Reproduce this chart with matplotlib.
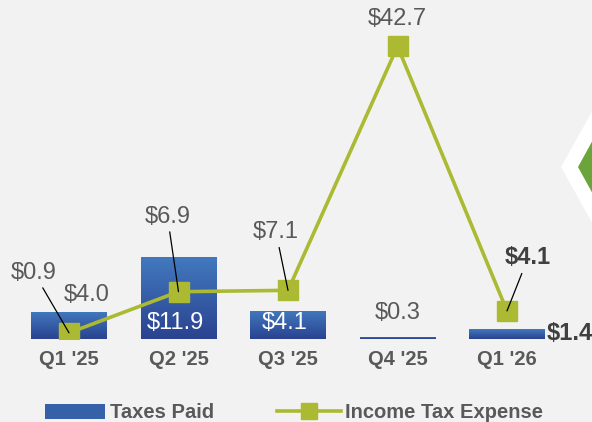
import numpy as np
import matplotlib.pyplot as plt
from matplotlib.colors import LinearSegmentedColormap
from matplotlib.patches import Polygon, Patch
from matplotlib.lines import Line2D

plt.rcParams['font.family'] = ['Liberation Sans', 'DejaVu Sans']

quarters = ["Q1 '25", "Q2 '25", "Q3 '25", "Q4 '25", "Q1 '26"]
taxes_paid = [4.0, 11.9, 4.1, 0.3, 1.4]
income_tax_expense = [0.9, 6.9, 7.1, 42.7, 4.1]

bg = '#f2f2f2'
gray = '#595959'
dark = '#404040'
green = '#abba32'
blue_cmap = LinearSegmentedColormap.from_list('bars', ['#2a4290', '#4279be'])

W, H = 592, 422
fig = plt.figure(figsize=(W / 100, H / 100), dpi=100, facecolor=bg)
ax = fig.add_axes([14.25 / W, 83 / H, 547.5 / W, 329 / H])
ax.set_facecolor(bg)

x = np.arange(len(quarters))
bars = ax.bar(x, taxes_paid, width=0.694, color='#3660a8', zorder=2)

# vertical gradient in each bar
grad = np.linspace(0, 1, 100).reshape(-1, 1)
for b in bars:
    bx, by = b.get_x(), b.get_y()
    bw, bh = b.get_width(), b.get_height()
    im = ax.imshow(grad, extent=[bx, bx + bw, by, by + bh], origin='lower',
                   aspect='auto', cmap=blue_cmap, zorder=2.1)
    im.set_clip_path(b)

ax.plot(x, income_tax_expense, color=green, lw=2.6, marker='s', ms=14,
        markeredgecolor=green, zorder=3)

ax.set_xlim(-0.5, 4.5)
ax.set_ylim(0, 48.0)
ax.set_xticks(x)
ax.set_xticklabels(quarters, fontsize=14.5, fontweight='bold', color=gray)
ax.tick_params(axis='x', length=0, pad=8)
ax.set_yticks([])
for s in ax.spines.values():
    s.set_visible(False)

# labels for the line (offsets in pixels from the marker)
line_off = [(-35, 60), (-11, 75), (-12, 58), (0, 27), (21, 53)]
line_leader = [True, True, True, False, True]
for i, v in enumerate(income_tax_expense):
    last = i == len(income_tax_expense) - 1
    ax.annotate(f'${v:.1f}', xy=(i, v), xytext=line_off[i], textcoords='offset pixels',
                ha='center', va='center', fontsize=17,
                fontweight='bold' if last else 'normal',
                color=dark if last else gray, zorder=4,
                arrowprops=dict(arrowstyle='-', color='black', lw=0.9,
                                shrinkA=1, shrinkB=0) if line_leader[i] else None)

# labels for the bars
ax.annotate(f'${taxes_paid[0]:.1f}', xy=(0, taxes_paid[0]), xytext=(18, 17),
            textcoords='offset pixels', ha='center', va='center', fontsize=17, color=gray)
for i in (1, 2):
    ax.annotate(f'${taxes_paid[i]:.1f}', xy=(i, 0), xytext=(-3, 16),
                textcoords='offset pixels', ha='center', va='center', fontsize=17,
                color='white', zorder=2.5)
ax.annotate(f'${taxes_paid[3]:.1f}', xy=(3, taxes_paid[3]), xytext=(0, 24),
            textcoords='offset pixels', ha='center', va='center', fontsize=17, color=gray)
ax.annotate(f'${taxes_paid[4]:.1f}', xy=(4 + 0.347, taxes_paid[4] / 2), xytext=(2, 1),
            textcoords='offset pixels', ha='left', va='center', fontsize=17,
            fontweight='bold', color=dark, annotation_clip=False)

# legend
leg1 = fig.legend(handles=[Patch(facecolor='#3660a8')], labels=['Taxes Paid'],
                  loc='center left', bbox_to_anchor=(45 / W, 9 / H), frameon=False,
                  borderpad=0, borderaxespad=0, handlelength=3.0, handleheight=0.8,
                  handletextpad=0.25, prop=dict(size=14.5, weight='bold'))
for t in leg1.get_texts():
    t.set_color(gray)
leg2 = fig.legend(handles=[Line2D([], [], color=green, lw=2.6, marker='s', ms=12)],
                  labels=['Income Tax Expense'], loc='center left',
                  bbox_to_anchor=(277 / W, 9 / H), frameon=False, borderpad=0,
                  borderaxespad=0, handlelength=3.2, handletextpad=0.2,
                  prop=dict(size=14.5, weight='bold'))
for t in leg2.get_texts():
    t.set_color(gray)

# chevron decoration on the right edge
white_chev = [(561, 167), (594, 108), (594, 226)]
green_chev = [(578, 167), (594, 138), (594, 196)]
for pts, col in ((white_chev, 'white'), (green_chev, '#6ba43a')):
    fig.patches.append(Polygon([(px / W, 1 - py / H) for px, py in pts], closed=True,
                               transform=fig.transFigure, facecolor=col,
                               edgecolor='none', zorder=0))

fig.savefig('out.png', dpi=100, facecolor=bg)
